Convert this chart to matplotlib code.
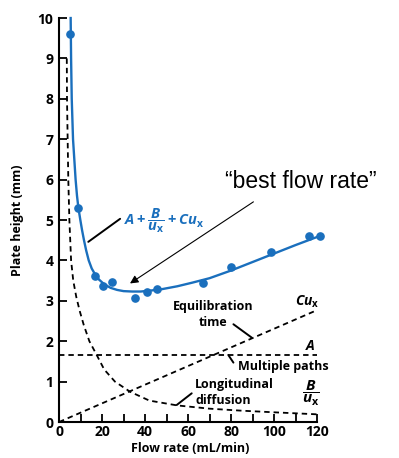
import matplotlib.pyplot as plt
from matplotlib.ticker import MultipleLocator

plt.rcParams['font.family'] = 'Open Sans'
plt.rcParams['font.weight'] = 'bold'
plt.rcParams['mathtext.fontset'] = 'custom'
plt.rcParams['mathtext.rm'] = 'Open Sans:bold'
plt.rcParams['mathtext.it'] = 'Open Sans:italic:bold'
plt.rcParams['mathtext.bf'] = 'Open Sans:bold'

BLUE = '#1a6fbd'

# measured plate heights
flow_pts = [5.1, 9.0, 16.7, 20.6, 24.5, 35.3, 40.8, 45.7, 67.1, 79.8, 98.6, 116.4, 121.4]
height_pts = [9.6, 5.31, 3.62, 3.37, 3.47, 3.06, 3.23, 3.29, 3.43, 3.83, 4.2, 4.6, 4.61]

# fitted van Deemter curve
fit_x = [5.4, 5.6, 5.9, 6.5, 7.7, 8.35, 9.0, 9.9, 10.7, 11.6, 12.6, 13.8, 15.2, 16.7,
         18.5, 21, 24, 27, 30, 34, 38, 42, 48, 55, 62, 70, 80, 90, 100, 110, 121]
fit_y = [10.0, 9.0, 8.0, 7.0, 6.0, 5.6, 5.3, 5.0, 4.75, 4.5, 4.25, 4.0, 3.8, 3.66,
         3.53, 3.41, 3.32, 3.27, 3.24, 3.23, 3.23, 3.25, 3.29, 3.36, 3.45, 3.56, 3.75,
         3.96, 4.17, 4.38, 4.6]

# B/u term (longitudinal diffusion)
diff_x = [3.6, 3.7, 4.0, 4.3, 4.8, 5.6, 6.6, 8.0, 9.6, 11.5, 14.1, 17.5, 21, 26, 33,
          42, 55, 70, 85, 100, 120]
diff_y = [9.0, 8.0, 7.0, 6.0, 5.0, 4.0, 3.5, 3.1, 2.75, 2.4, 2.0, 1.66, 1.3, 1.0,
          0.75, 0.53, 0.41, 0.33, 0.28, 0.24, 0.19]

# Cu term (equilibration time) and A term (multiple paths)
mass_x = [0, 120]
mass_y = [0, 2.77]
paths_x = [0, 120]
paths_y = [1.67, 1.67]

fig = plt.figure(figsize=(3.99, 4.58), dpi=100)
ax = fig.add_axes([0.148, 0.0786, 0.6574, 0.882])

dash = (0, (3, 2.2))
ax.plot(diff_x, diff_y, color='black', lw=1.3, linestyle=dash)
ax.plot(mass_x, mass_y, color='black', lw=1.3, linestyle=dash)
ax.plot(paths_x, paths_y, color='black', lw=1.3, linestyle=dash)
ax.plot(fit_x, fit_y, color=BLUE, lw=1.7, clip_on=False)
ax.plot(flow_pts, height_pts, 'o', color=BLUE, markersize=5.2, clip_on=False)

ax.set_xlim(0, 122)
ax.set_ylim(0, 10)
ax.spines['top'].set_visible(False)
ax.spines['right'].set_visible(False)
ax.spines['bottom'].set_bounds(0, 120)
ax.spines['left'].set_linewidth(1.5)
ax.spines['bottom'].set_linewidth(1.5)

ax.xaxis.set_major_locator(MultipleLocator(20))
ax.xaxis.set_minor_locator(MultipleLocator(10))
ax.yaxis.set_major_locator(MultipleLocator(1))
ax.tick_params(axis='both', which='both', direction='in', width=1.3, length=6,
               labelsize=10)
ax.tick_params(axis='x', pad=2)
ax.tick_params(axis='y', pad=4)
ax.set_xticks(range(0, 121, 20))

ax.set_xlabel('Flow rate (mL/min)', fontsize=9, fontweight='bold', labelpad=2)
ax.set_ylabel('Plate height (mm)', fontsize=9, fontweight='bold', labelpad=10)

# labels for the terms
line_kw = dict(arrowstyle='-', color='black', lw=1.4, shrinkA=0, shrinkB=0)
ax.text(30.2, 5.0, r'$A + \dfrac{B}{u_\mathrm{x}} + Cu_\mathrm{x}$', color=BLUE,
        fontsize=10.5, va='center')
ax.annotate('', xy=(13.6, 4.46), xytext=(28.4, 5.03), arrowprops=line_kw)

ax.text(71.6, 2.65, 'Equilibration\ntime', fontsize=9, ha='center', va='center',
        linespacing=1.3)
ax.annotate('', xy=(89.6, 2.09), xytext=(81.1, 2.42), arrowprops=line_kw)
ax.text(115.2, 2.98, r'$Cu_\mathrm{x}$', fontsize=10, ha='center', va='center')

ax.text(116.7, 1.87, r'$A$', fontsize=10, ha='center', va='center')
ax.text(104.3, 1.37, 'Multiple paths', fontsize=9, ha='center', va='center')
ax.annotate('', xy=(78.7, 1.66), xytext=(81.1, 1.47), arrowprops=line_kw)

ax.text(63.3, 0.74, 'Longitudinal\ndiffusion', fontsize=9, ha='left', va='center',
        linespacing=1.3)
ax.annotate('', xy=(54.7, 0.42), xytext=(61.7, 0.71), arrowprops=line_kw)
ax.text(117.2, 0.71, r'$\dfrac{B}{u_\mathrm{x}}$', fontsize=11, ha='center',
        va='center')

ax.text(77, 5.95, '\u201cbest flow rate\u201d', fontsize=16.5, family='Liberation Sans',
        fontweight='normal', va='center')
ax.annotate('', xy=(33.0, 3.43), xytext=(90.4, 5.45),
            arrowprops=dict(arrowstyle='-|>', color='black', lw=0.8,
                            mutation_scale=12, shrinkA=0, shrinkB=0))

fig.savefig('out.png', dpi=100)
